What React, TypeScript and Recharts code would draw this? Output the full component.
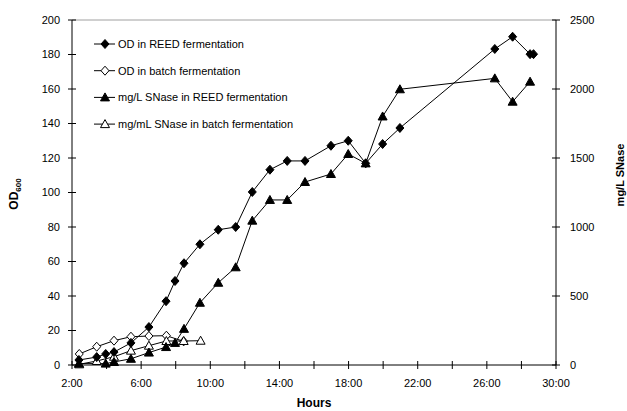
import { Legend, Line, LineChart, ReferenceLine, XAxis, YAxis } from 'recharts';

// hours since start (shared by OD + SNase for the REED run)
const reedHours = [2.4, 3.43, 3.95, 4.43, 5.41, 6.45, 7.44, 7.96, 8.48, 9.4, 10.46, 11.47, 12.43, 13.45, 14.45, 15.48, 16.98, 17.98, 18.99, 19.97, 20.97, 26.46, 27.49, 28.5, 28.7];
const reedOd = [2.9, 4.6, 6.4, 7.5, 12.8, 22, 37, 48.7, 59, 70, 78.4, 80, 100.3, 113.2, 118.3, 118.3, 127.1, 130, 116.9, 128.1, 137.4, 183.2, 190.3, 180.2, 180.2];
const reedSnase = [10, null, 10, 22, 45, 90, 130, 160, 262, 451, 596, 708, 1046, 1196, 1196, 1326, 1384, 1529, 1461, 1801, 1998, 2077, 1908, 2053, null];

const batchHours = [2.42, 3.43, 4.43, 5.41, 6.45, 7.46, 8.46, 9.44];
const batchOd = [6.4, 10.6, 14.1, 16.4, 16.8, 17.0, 13.7, null];
const batchSnase = [5, 29, 60, 104, 140, 174, 174, 176];

const xTicks = [2, 4, 6, 8, 10, 12, 14, 16, 18, 20, 22, 24, 26, 28, 30];
const odTicks = [0, 20, 40, 60, 80, 100, 120, 140, 160, 180, 200];
const snaseTicks = [0, 500, 1000, 1500, 2000, 2500];

const legendItems = [
  { label: 'OD in REED fermentation', shape: 'diamond', filled: true },
  { label: 'OD in batch fermentation', shape: 'diamond', filled: false },
  { label: 'mg/L SNase in REED fermentation', shape: 'triangle', filled: true },
  { label: 'mg/mL SNase in batch fermentation', shape: 'triangle', filled: false },
];

const FONT = '"Liberation Sans", Arial, sans-serif';
const TS = 4;
const TM = 10;

const toRows = (hours: number[], vals: (number | null)[]) => hours.map((h, i) => ({ h, v: vals[i] }));

function Marker({ cx, cy, shape, filled }: any) {
  if (cx == null || cy == null || Number.isNaN(cy)) return <g />;
  const fill = filled ? '#000' : '#fff';
  const d =
    shape === 'diamond'
      ? `M${cx},${cy - 4.5}L${cx + 4},${cy}L${cx},${cy + 4.5}L${cx - 4},${cy}Z`
      : `M${cx},${cy - 4.5}L${cx + 4.5},${cy + 3.5}L${cx - 4.5},${cy + 3.5}Z`;
  return <path d={d} fill={fill} stroke="#000" strokeWidth={1} />;
}

const dotFn = (shape: string, filled: boolean) => (p: any) =>
  <Marker key={p.index} cx={p.cx} cy={p.cy} shape={shape} filled={filled} />;

function XTick({ x, y, payload }: any) {
  const axisY = y - TS - TM;
  const show = (payload.value - 2) % 4 === 0;
  return (
    <g>
      <line x1={x} x2={x} y1={axisY - 4} y2={axisY + 4} stroke="#000" />
      {show && (
        <text x={x} y={y} dy="0.71em" textAnchor="middle" fontSize={11} fontFamily={FONT} fill="#000">
          {`${payload.value}:00`}
        </text>
      )}
    </g>
  );
}

function LeftTick({ x, y, payload }: any) {
  const axisX = x + TS + 8;
  return (
    <g>
      <line x1={axisX - 4} x2={axisX + 4} y1={y} y2={y} stroke="#000" />
      <text x={x} y={y} dy="0.35em" textAnchor="end" fontSize={11} fontFamily={FONT} fill="#000">
        {payload.value}
      </text>
    </g>
  );
}

function RightTick({ x, y, payload }: any) {
  const axisX = x - TS - TM;
  return (
    <g>
      <line x1={axisX - 4} x2={axisX + 4} y1={y} y2={y} stroke="#000" />
      <text x={x} y={y} dy="0.35em" textAnchor="start" fontSize={11} fontFamily={FONT} fill="#000">
        {payload.value}
      </text>
    </g>
  );
}

function LegendBox() {
  return (
    <svg width={300} height={110} style={{ display: 'block' }}>
      {legendItems.map((it, i) => {
        const cy = 14 + i * 26.7;
        return (
          <g key={it.label}>
            <line x1={4} x2={25} y1={cy} y2={cy} stroke="#000" />
            <Marker cx={15} cy={cy} shape={it.shape} filled={it.filled} />
            <text x={28} y={cy} dy="0.35em" fontSize={11} fontFamily={FONT} fill="#000">
              {it.label}
            </text>
          </g>
        );
      })}
    </svg>
  );
}

export default function App() {
  return (
    <div style={{ position: 'absolute', left: 0, top: 0, background: '#fff' }}>
      <LineChart width={627} height={411} margin={{ top: 20, right: 0, bottom: 16, left: 0 }}>
        <XAxis
          dataKey="h"
          type="number"
          domain={[2, 30]}
          ticks={xTicks}
          interval={0}
          tickSize={TS}
          tickMargin={TM}
          tickLine={false}
          tick={<XTick />}
          axisLine={{ stroke: '#000' }}
          height={30}
          allowDataOverflow
          label={{
            content: () => (
              <text x={314} y={407} textAnchor="middle" fontSize={12} fontWeight="bold" fontFamily={FONT} fill="#000">
                Hours
              </text>
            ),
          }}
        />
        <YAxis
          yAxisId="left"
          domain={[0, 200]}
          ticks={odTicks}
          interval={0}
          width={72}
          tickSize={TS}
          tickMargin={8}
          tickLine={false}
          tick={<LeftTick />}
          axisLine={{ stroke: '#000' }}
          label={{
            content: () => (
              <text x={18} y={194} transform="rotate(-90 18 194)" textAnchor="middle" fontSize={12} fontWeight="bold" fontFamily={FONT} fill="#000">
                OD<tspan fontSize={8} dy={3}>600</tspan>
              </text>
            ),
          }}
        />
        <YAxis
          yAxisId="right"
          orientation="right"
          domain={[0, 2500]}
          ticks={snaseTicks}
          interval={0}
          width={71}
          tickSize={TS}
          tickMargin={TM}
          tickLine={false}
          tick={<RightTick />}
          axisLine={{ stroke: '#000' }}
          label={{
            content: () => (
              <text x={624} y={175} transform="rotate(-90 624 175)" textAnchor="middle" fontSize={11} fontWeight="bold" fontFamily={FONT} fill="#000">
                mg/L SNase
              </text>
            ),
          }}
        />
        <ReferenceLine yAxisId="left" y={200} stroke="#a0a0a0" />
        <Legend
          layout="horizontal"
          align="center"
          verticalAlign="middle"
          wrapperStyle={{ left: 90, top: 30, width: 300 }}
          content={() => <LegendBox />}
        />
        <Line
          yAxisId="left"
          data={toRows(batchHours, batchOd)}
          dataKey="v"
          stroke="#000"
          strokeWidth={1}
          dot={dotFn('diamond', false)}
          isAnimationActive={false}
          legendType="none"
        />
        <Line
          yAxisId="right"
          data={toRows(batchHours, batchSnase)}
          dataKey="v"
          stroke="#000"
          strokeWidth={1}
          dot={dotFn('triangle', false)}
          isAnimationActive={false}
          legendType="none"
        />
        <Line
          yAxisId="right"
          data={toRows(reedHours, reedSnase)}
          dataKey="v"
          stroke="#000"
          strokeWidth={1}
          connectNulls
          dot={dotFn('triangle', true)}
          isAnimationActive={false}
          legendType="none"
        />
        <Line
          yAxisId="left"
          data={toRows(reedHours, reedOd)}
          dataKey="v"
          stroke="#000"
          strokeWidth={1}
          dot={dotFn('diamond', true)}
          isAnimationActive={false}
          legendType="none"
        />
      </LineChart>
    </div>
  );
}
